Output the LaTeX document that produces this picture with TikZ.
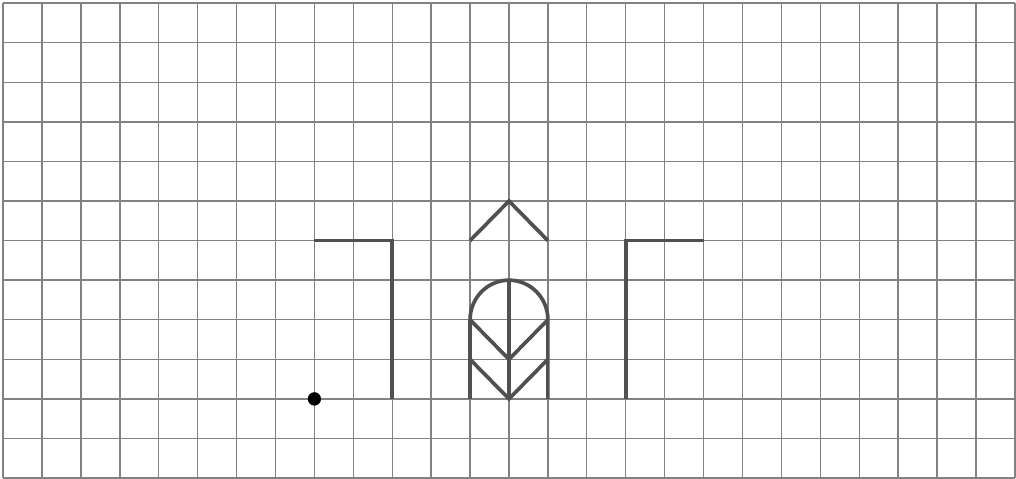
\documentclass[tikz,border=0pt]{standalone}
\usepackage{tikz}
\definecolor{gridgrey}{RGB}{130,130,130}
\definecolor{inkgrey}{RGB}{80,80,80}

\begin{document}
\begin{tikzpicture}[x=1cm, y=1.017cm,
  gridline/.style={gridgrey, line width=1pt},
  stroke/.style={inkgrey, line width=2.7pt},
  dot/.style={fill=black}]
\useasboundingbox (-0.08,-0.02) rectangle (26.03,12.08);

% grid
\foreach \i in {0,...,26}
  \draw[gridline] (\i,0)--(\i,12);
\foreach \j in {0,...,12}
  \draw[gridline] (0,\j)--(26,\j);

% points of the figure
\coordinate (p) at (8,2);
\coordinate (la) at (8,6); \coordinate (lb) at (10,6); \coordinate (lc) at (10,2);
\coordinate (ra) at (16,2); \coordinate (rb) at (16,6); \coordinate (rc) at (18,6);
\coordinate (hl) at (12,6); \coordinate (ht) at (13,7); \coordinate (hr) at (14,6);

\fill[dot] (p) circle (0.17);
\draw[stroke] (la)--(lb)--(lc);
\draw[stroke] (ra)--(rb)--(rc);
\draw[stroke] (hl)--(ht)--(hr);

% arch with the leaf
\draw[stroke] (12,2)--(12,4) arc[start angle=180, end angle=0, x radius=1, y radius=1]--(14,2);
\draw[stroke] (13,2)--(13,5);
\draw[stroke] (12,4)--(13,3)--(14,4);
\draw[stroke] (12,3)--(13,2)--(14,3);
\end{tikzpicture}
\end{document}
